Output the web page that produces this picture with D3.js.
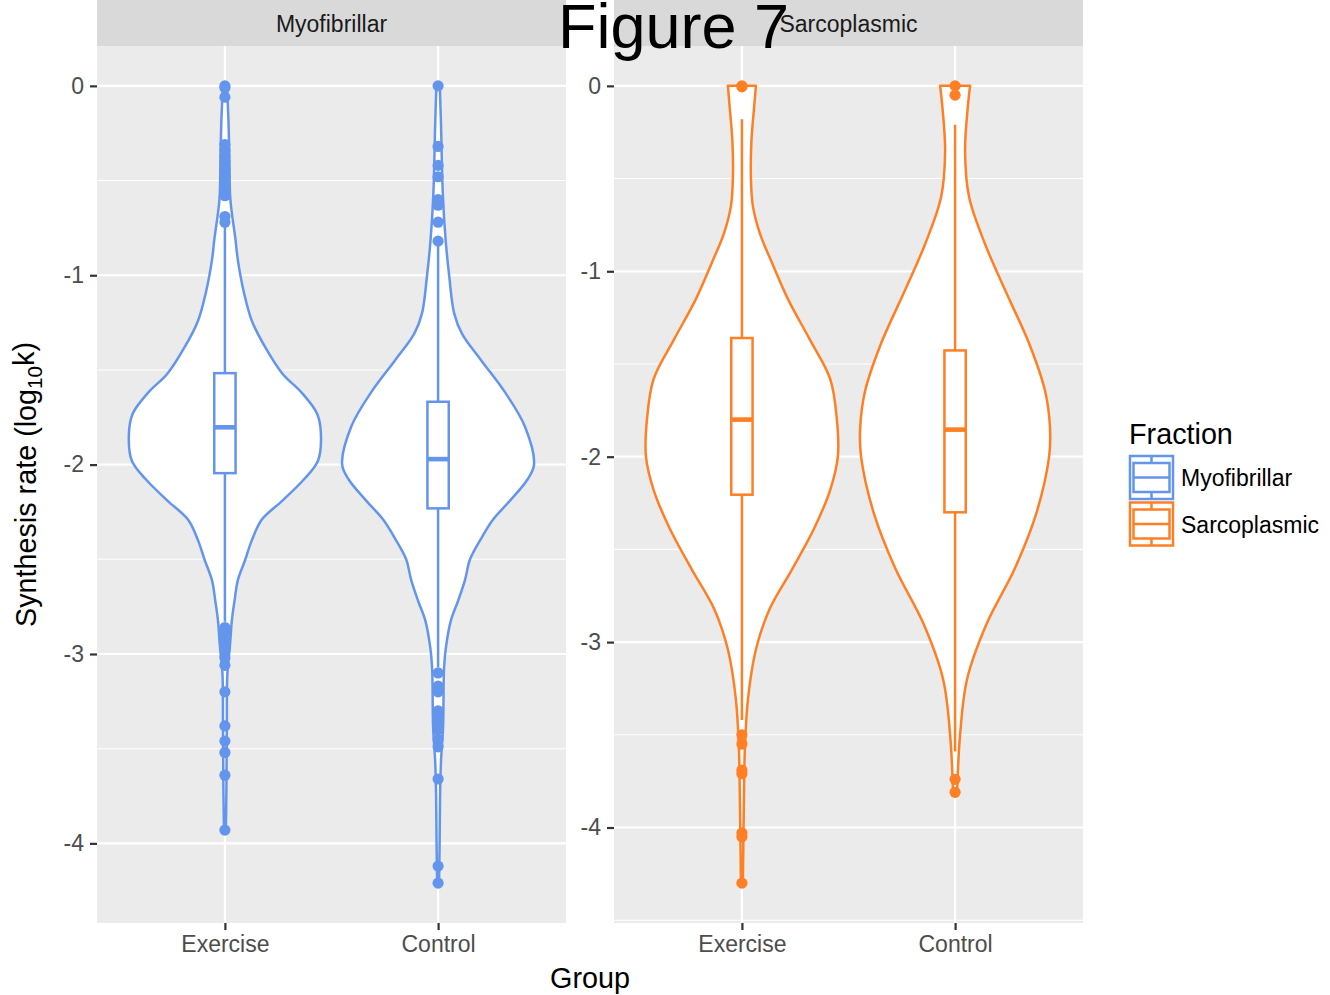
<!DOCTYPE html>
<html>
<head>
<meta charset="utf-8">
<script src="https://cdn.jsdelivr.net/npm/d3@7"></script>
<style>
  html, body { margin: 0; padding: 0; background: #ffffff; }
  svg { display: block; font-family: "Liberation Sans", Arial, Helvetica, sans-serif; }
</style>
</head>
<body>
<svg id="chart" width="1330" height="995"></svg>
<script>
// ---- data ----------------------------------------------------------------
const fractions = ["Myofibrillar", "Sarcoplasmic"];
const groups = ["Exercise", "Control"];
const fractionColors = ["#6495ED", "#FF7F24"];

const yTickValues = [0, -1, -2, -3, -4];
const yTickLabels = ["0", "-1", "-2", "-3", "-4"];
const yMinorValues = [-0.5, -1.5, -2.5, -3.5, -4.5];

// violin outlines: [log10 k, relative density]
const myoExerciseViolin = [
  [0, 0.02], [-0.05, 0.026], [-0.215, 0.039], [-0.40, 0.047], [-0.60, 0.057],
  [-0.81, 0.11], [-0.92, 0.135], [-1.095, 0.20], [-1.24, 0.28], [-1.38, 0.42],
  [-1.52, 0.60], [-1.62, 0.80], [-1.73, 0.96], [-1.83, 1.0], [-1.98, 0.97],
  [-2.08, 0.82], [-2.19, 0.60], [-2.29, 0.385], [-2.40, 0.28], [-2.505, 0.21],
  [-2.61, 0.135], [-2.72, 0.10], [-2.82, 0.073], [-2.96, 0.052], [-3.10, 0.026],
  [-3.40, 0.02], [-3.70, 0.016], [-3.93, 0.01]
];
const myoControlViolin = [
  [0, 0.018], [-0.215, 0.031], [-0.567, 0.049], [-0.81, 0.078], [-1.0, 0.115],
  [-1.20, 0.167], [-1.31, 0.25], [-1.45, 0.45], [-1.62, 0.70], [-1.80, 0.906],
  [-2.0, 1.0], [-2.08, 0.93], [-2.19, 0.75], [-2.29, 0.573], [-2.40, 0.4375],
  [-2.50, 0.333], [-2.61, 0.28], [-2.72, 0.208], [-2.82, 0.135], [-2.96, 0.083],
  [-3.07, 0.0625], [-3.385, 0.052], [-3.56, 0.031], [-3.74, 0.021], [-4.0, 0.016],
  [-4.21, 0.01]
];
const sarcoExerciseViolin = [
  [0, 0.146], [-0.1, 0.13], [-0.3, 0.099], [-0.5, 0.094], [-0.65, 0.115],
  [-0.8, 0.19], [-0.95, 0.31], [-1.15, 0.48], [-1.37, 0.71], [-1.58, 0.92],
  [-1.80, 0.99], [-2.0, 1.0], [-2.18, 0.92], [-2.39, 0.75], [-2.61, 0.52],
  [-2.82, 0.29], [-3.04, 0.146], [-3.31, 0.0625], [-3.58, 0.031], [-3.85, 0.021],
  [-4.30, 0.01]
];
const sarcoControlViolin = [
  [0, 0.156], [-0.1, 0.135], [-0.35, 0.104], [-0.6, 0.146], [-0.85, 0.31],
  [-1.1, 0.52], [-1.4, 0.78], [-1.65, 0.94], [-1.85, 0.99], [-2.0, 0.98],
  [-2.3, 0.85], [-2.6, 0.625], [-2.9, 0.33], [-3.2, 0.125], [-3.5, 0.052],
  [-3.81, 0.021]
];

// box statistics: [lower whisker, q1, median, q3, upper whisker]
const myoExerciseBox = [-2.83, -2.045, -1.803, -1.517, -0.74];
const myoControlBox = [-3.07, -2.231, -1.971, -1.668, -0.84];
const sarcoExerciseBox = [-3.42, -2.205, -1.80, -1.36, -0.18];
const sarcoControlBox = [-3.59, -2.30, -1.854, -1.427, -0.21];

// outlying observations
const myoExerciseOutliers = [0, -0.01, -0.06, -0.31, -0.34, -0.37, -0.40, -0.44, -0.48,
  -0.52, -0.55, -0.58, -0.69, -0.72, -2.86, -2.89, -2.92, -2.95, -2.98, -3.02, -3.06,
  -3.20, -3.38, -3.46, -3.52, -3.64, -3.93];
const myoControlOutliers = [0, -0.32, -0.42, -0.48, -0.60, -0.63, -0.72, -0.82,
  -3.10, -3.17, -3.20, -3.30, -3.33, -3.37, -3.40, -3.45, -3.49, -3.66, -4.12, -4.21];
const sarcoExerciseOutliers = [0, -0.005, -3.50, -3.55, -3.69, -3.71, -4.03, -4.05, -4.30];
const sarcoControlOutliers = [0, -0.05, -3.74, -3.81];

const panelData = [
  { violins: [myoExerciseViolin, myoControlViolin],
    boxes: [myoExerciseBox, myoControlBox],
    outliers: [myoExerciseOutliers, myoControlOutliers] },
  { violins: [sarcoExerciseViolin, sarcoControlViolin],
    boxes: [sarcoExerciseBox, sarcoControlBox],
    outliers: [sarcoExerciseOutliers, sarcoControlOutliers] }
];

// ---- layout --------------------------------------------------------------
const svg = d3.select("#chart");
const stripTop = 0, panelTop = 46, panelBottom = 923;
const panelX = [[97, 566], [614, 1083]];
const tickFont = 23, titleFont = 28.75;
const markStroke = 2.5;

panelData.forEach((pd, pi) => {
  const [x0, x1] = panelX[pi];
  const color = fractionColors[pi];

  // y range expanded 5% beyond the data range
  const allVals = pd.violins.flat().map(d => d[0]).concat(pd.outliers.flat());
  const lo = d3.min(allVals), hi = d3.max(allVals);
  const pad = (hi - lo) * 0.05;
  const y = d3.scaleLinear().domain([lo - pad, hi + pad]).range([panelBottom, panelTop]);
  const x = d3.scalePoint().domain(groups).range([x0, x1]).padding(0.6);
  const step = x.step();
  const w = d3.scaleLinear().domain([0, 1]).range([0, 0.45 * step]);

  const g = svg.append("g");

  // strip
  g.append("rect").attr("x", x0).attr("y", stripTop).attr("width", x1 - x0)
    .attr("height", panelTop - stripTop).attr("fill", "#D9D9D9");
  g.append("text").attr("x", (x0 + x1) / 2).attr("y", 32)
    .attr("text-anchor", "middle").attr("font-size", tickFont).attr("fill", "#1A1A1A")
    .text(fractions[pi]);

  // panel background
  g.append("rect").attr("x", x0).attr("y", panelTop).attr("width", x1 - x0)
    .attr("height", panelBottom - panelTop).attr("fill", "#EBEBEB");

  // grid
  const [yLo, yHi] = y.domain();
  g.selectAll(".minor").data(yMinorValues.filter(v => v >= yLo && v <= yHi)).join("line")
    .attr("x1", x0).attr("x2", x1).attr("y1", d => y(d)).attr("y2", d => y(d))
    .attr("stroke", "#ffffff").attr("stroke-width", 1.1);
  g.selectAll(".major").data(yTickValues).join("line")
    .attr("x1", x0).attr("x2", x1).attr("y1", d => y(d)).attr("y2", d => y(d))
    .attr("stroke", "#ffffff").attr("stroke-width", 2.2);
  g.selectAll(".vgrid").data(groups).join("line")
    .attr("x1", d => x(d)).attr("x2", d => x(d)).attr("y1", panelTop).attr("y2", panelBottom)
    .attr("stroke", "#ffffff").attr("stroke-width", 2.2);

  // violins
  groups.forEach((grp, gi) => {
    const cx = x(grp);
    const area = d3.area()
      .y(d => y(d[0]))
      .x0(d => cx - w(d[1]))
      .x1(d => cx + w(d[1]))
      .curve(d3.curveCatmullRom.alpha(0.5));
    g.append("path").datum(pd.violins[gi]).attr("d", area)
      .attr("fill", "#ffffff").attr("stroke", color).attr("stroke-width", markStroke)
      .attr("stroke-linejoin", "round");

    // box plot
    const [wl, q1, med, q3, wh] = pd.boxes[gi];
    const bw = 0.1 * step;
    g.append("line").attr("x1", cx).attr("x2", cx).attr("y1", y(q3)).attr("y2", y(wh))
      .attr("stroke", color).attr("stroke-width", markStroke);
    g.append("line").attr("x1", cx).attr("x2", cx).attr("y1", y(q1)).attr("y2", y(wl))
      .attr("stroke", color).attr("stroke-width", markStroke);
    g.append("rect").attr("x", cx - bw / 2).attr("y", y(q3)).attr("width", bw)
      .attr("height", y(q1) - y(q3)).attr("fill", "#ffffff")
      .attr("stroke", color).attr("stroke-width", markStroke);
    g.append("line").attr("x1", cx - bw / 2).attr("x2", cx + bw / 2)
      .attr("y1", y(med)).attr("y2", y(med))
      .attr("stroke", color).attr("stroke-width", 4.6);

    // outliers
    g.selectAll(null).data(pd.outliers[gi]).join("circle")
      .attr("cx", cx).attr("cy", d => y(d)).attr("r", 5.6).attr("fill", color);
  });

  // axes
  const yAxis = d3.axisLeft(y).tickValues(yTickValues)
    .tickFormat((d, i) => yTickLabels[i]).tickSize(7).tickPadding(6);
  const ya = g.append("g").attr("transform", `translate(${x0},0)`).call(yAxis);
  const xAxis = d3.axisBottom(x).tickSize(7).tickPadding(6);
  const xa = g.append("g").attr("transform", `translate(0,${panelBottom})`).call(xAxis);
  [ya, xa].forEach(a => {
    a.select(".domain").remove();
    a.selectAll(".tick line").attr("stroke", "#333333").attr("stroke-width", 2.2);
    a.selectAll(".tick text").attr("fill", "#4D4D4D").attr("font-size", tickFont)
      .attr("font-family", "Liberation Sans, Arial, sans-serif");
  });
});

// axis titles
svg.append("text").attr("x", (97 + 1083) / 2).attr("y", 988).attr("text-anchor", "middle")
  .attr("font-size", titleFont).attr("fill", "#000000").text("Group");

const yTitle = svg.append("text").attr("transform", "translate(36,484.5) rotate(-90)")
  .attr("text-anchor", "middle").attr("font-size", titleFont).attr("fill", "#000000");
yTitle.append("tspan").text("Synthesis rate (log");
yTitle.append("tspan").attr("font-size", titleFont * 0.72).attr("dy", "0.3em").text("10");
yTitle.append("tspan").attr("dy", "-0.3em").text("k)");

// legend
const legend = svg.append("g");
legend.append("text").attr("x", 1129).attr("y", 444).attr("font-size", titleFont)
  .attr("fill", "#000000").text("Fraction");
fractions.forEach((f, i) => {
  const top = 456 + i * 46.5, c = fractionColors[i];
  const kx = 1130, kw = 43, kh = 43;
  legend.append("rect").attr("x", kx).attr("y", top).attr("width", kw).attr("height", kh)
    .attr("fill", "#ffffff").attr("stroke", c).attr("stroke-width", markStroke);
  legend.append("line").attr("x1", kx + kw / 2).attr("x2", kx + kw / 2)
    .attr("y1", top).attr("y2", top + kh).attr("stroke", c).attr("stroke-width", markStroke);
  legend.append("rect").attr("x", kx + 3.5).attr("y", top + 7).attr("width", kw - 7)
    .attr("height", kh - 14).attr("fill", "#ffffff").attr("stroke", c).attr("stroke-width", markStroke);
  legend.append("line").attr("x1", kx + 3.5).attr("x2", kx + kw - 3.5)
    .attr("y1", top + kh / 2).attr("y2", top + kh / 2).attr("stroke", c).attr("stroke-width", markStroke);
  legend.append("text").attr("x", 1181).attr("y", top + 30).attr("font-size", tickFont)
    .attr("fill", "#000000").text(f);
});

// figure label
svg.append("text").attr("x", 558).attr("y", 48).attr("font-size", 63)
  .attr("fill", "#000000").text("Figure 7");
</script>
</body>
</html>
